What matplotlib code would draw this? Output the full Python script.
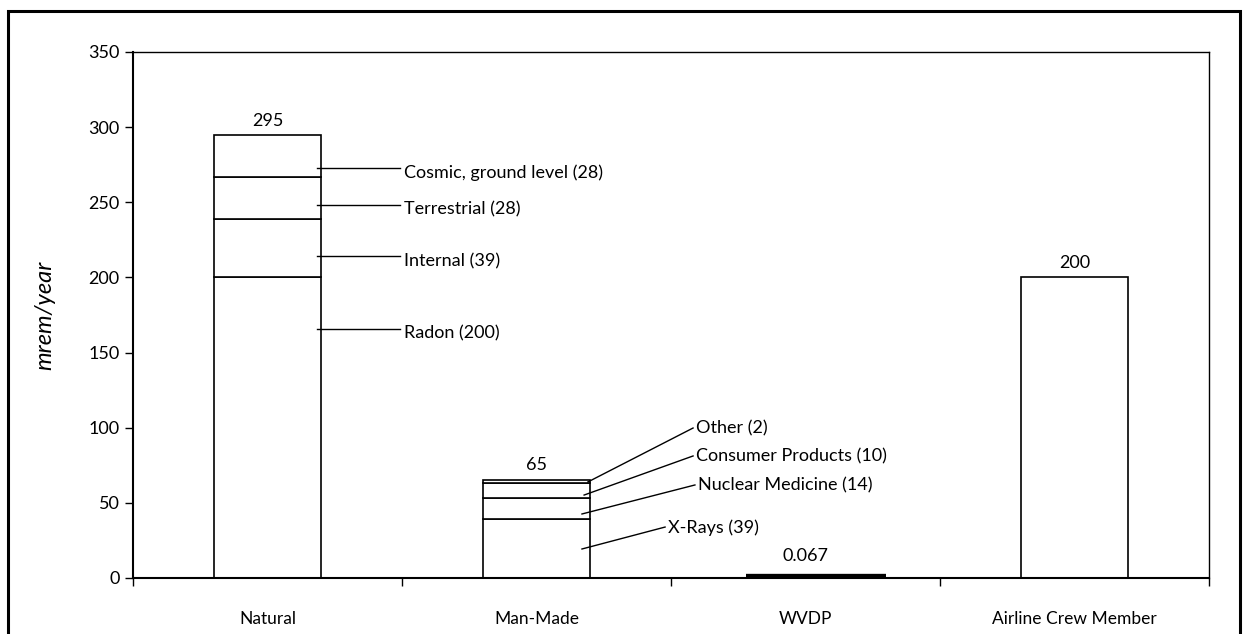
import matplotlib.pyplot as plt
import matplotlib.patches as patches
import numpy as np

plt.rcParams['font.family'] = ['Lato', 'DejaVu Sans']

# categories and values
categories = ["Natural", "Man-Made", "WVDP", "Airline Crew Member"]
totals = [295, 65, 0.067, 200]
total_labels = ["295", "65", "0.067", "200"]

natural_parts = [200, 39, 28, 28]
natural_names = ["Radon (200)", "Internal (39)", "Terrestrial (28)", "Cosmic, ground level (28)"]
natural_label_y = [166, 214, 248, 273]

manmade_parts = [39, 14, 10, 2]
manmade_names = ["X-Rays (39)", "Nuclear Medicine (14)", "Consumer Products (10)", "Other (2)"]
manmade_start = [(1.169, 19.3), (1.169, 42.6), (1.177, 55.2), (1.191, 63.9)]
manmade_end = [(1.478, 33.9), (1.589, 61.9), (1.582, 81.2), (1.582, 99.8)]

fig = plt.figure(figsize=(12.48, 6.34), dpi=100)
ax = fig.add_axes([133/1248, 56/634, (1209-133)/1248, (578-52)/634])

# outer frame
frame = patches.Rectangle((8/1248, -0.05), (1240-8)/1248, (634-11)/634 + 0.05,
                          transform=fig.transFigure, fill=False, edgecolor='black',
                          linewidth=2.2, clip_on=False)
fig.patches.append(frame)

x = np.arange(len(categories))
w = 0.4
fs = 13

# natural stack
bottom = 0
for v in natural_parts:
    ax.bar(x[0], v, w, bottom=bottom, facecolor='white', edgecolor='black', linewidth=1.2)
    bottom += v
# man-made stack
bottom = 0
for v in manmade_parts:
    ax.bar(x[1], v, w, bottom=bottom, facecolor='white', edgecolor='black', linewidth=1.2)
    bottom += v
# wvdp
ax.bar(x[2] + 0.04, totals[2], 0.52, facecolor='black', edgecolor='black', linewidth=6)
# airline
ax.bar(x[3], totals[3], w, facecolor='white', edgecolor='black', linewidth=1.2)

# total labels
offsets = [4, 5, 9, 4]
for i in range(4):
    ax.text(x[i], totals[i] + offsets[i], total_labels[i], ha='center', va='bottom', fontsize=fs)

# natural callouts (text sits a little under its leader line)
for name, yy in zip(natural_names, natural_label_y):
    ax.plot([0.184, 0.4926], [yy, yy], color='black', linewidth=1)
    ax.text(0.507, yy - 3, name, ha='left', va='center', fontsize=fs)

# man-made callouts
for name, s, e in zip(manmade_names, manmade_start, manmade_end):
    ax.plot([s[0], e[0]], [s[1], e[1]], color='black', linewidth=1)
    ax.text(e[0] + 0.012, e[1] - 0.5, name, ha='left', va='center', fontsize=fs)

ax.set_xlim(-0.5, 3.5)
ax.set_ylim(0, 350)
ax.set_yticks(range(0, 351, 50))
ax.set_xticks(x)
ax.set_xticklabels(categories, fontsize=12.5)
ax.set_xticks(np.arange(-0.5, 3.6, 1), minor=True)
ax.tick_params(axis='x', which='major', length=0, pad=24)
ax.tick_params(axis='x', which='minor', length=6, direction='out', width=1)
ax.tick_params(axis='y', length=6, direction='out', width=1, labelsize=fs)
for sp in ax.spines.values():
    sp.set_linewidth(1)
ax.spines['left'].set_linewidth(1.5)
ax.spines['bottom'].set_linewidth(1.5)

ax.set_ylabel("mrem/year", fontsize=17, style='italic', labelpad=24)

fig.savefig("out.png", dpi=100)
